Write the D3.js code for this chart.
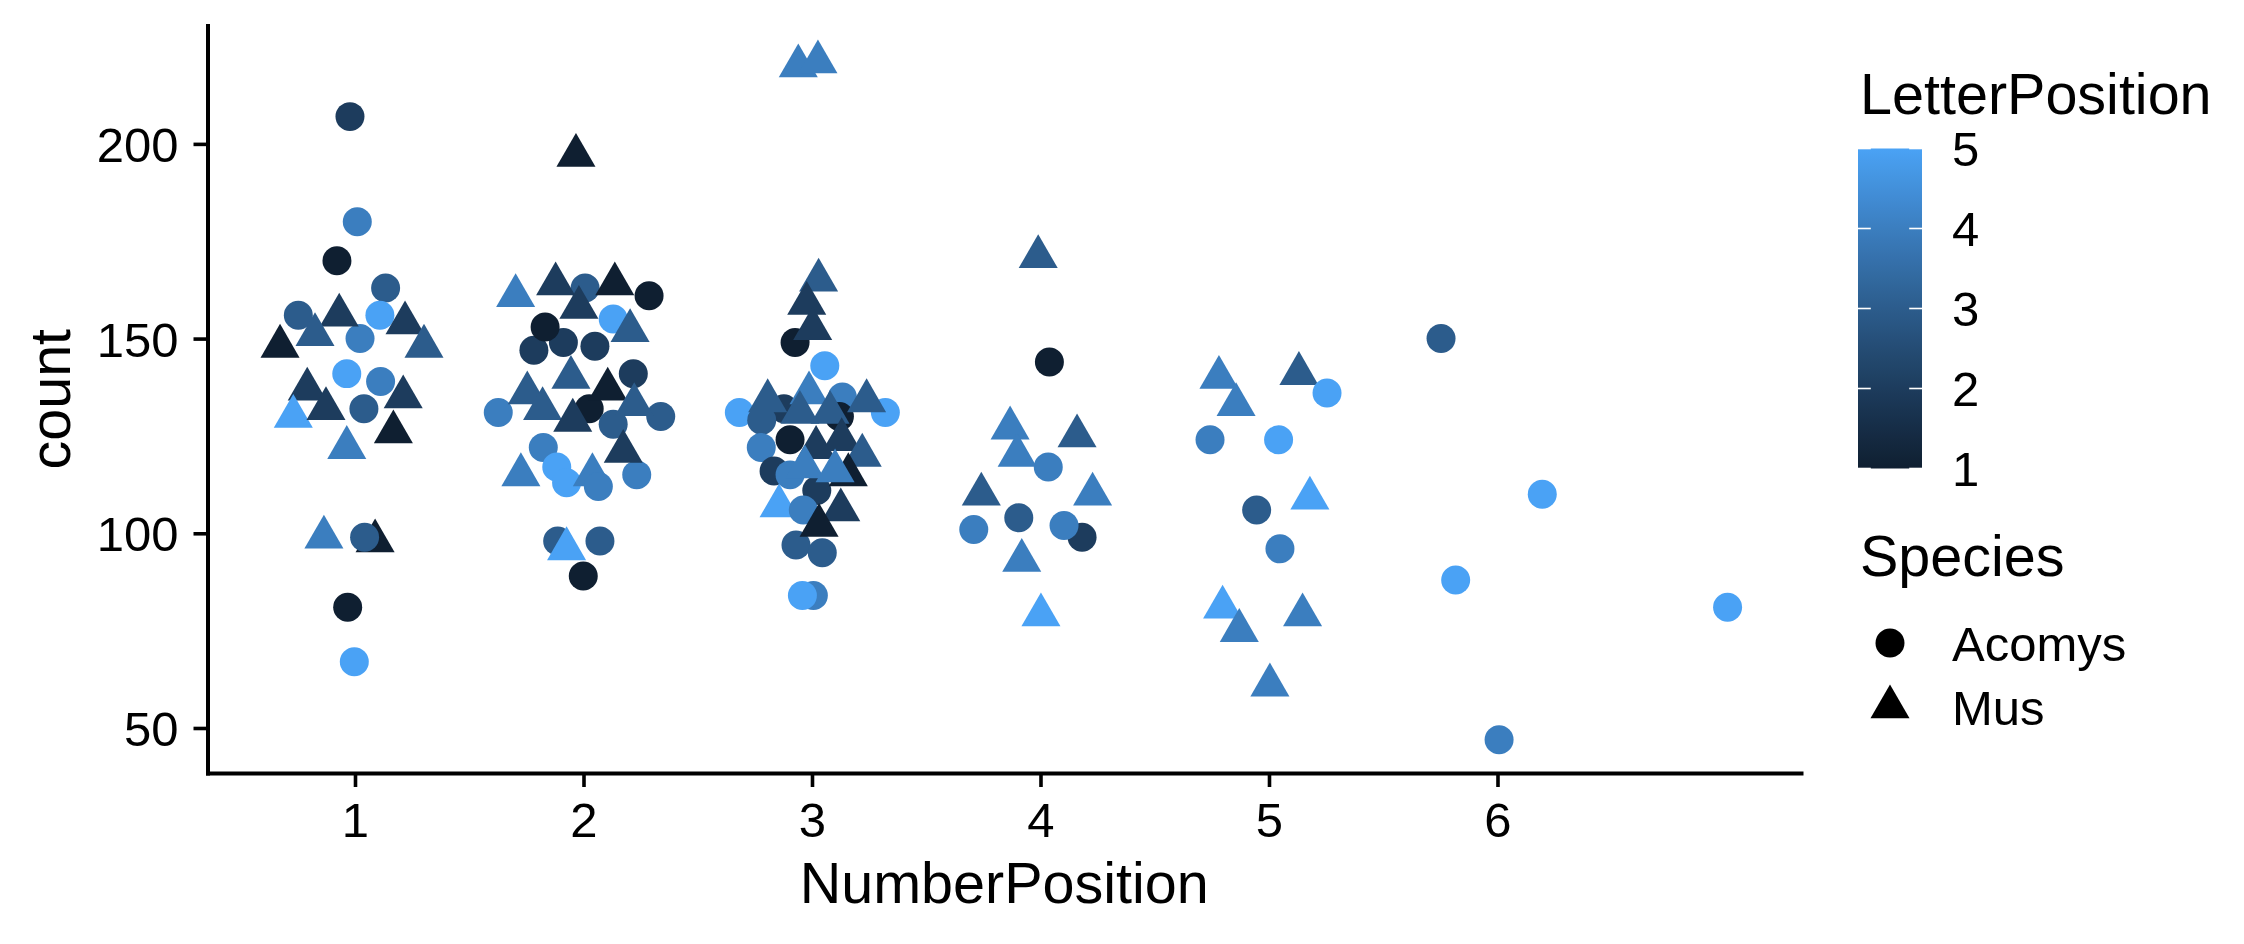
<!DOCTYPE html>
<html>
<head>
<meta charset="utf-8">
<script src="https://cdn.jsdelivr.net/npm/d3@7"></script>
<style>
  body { margin: 0; background: #ffffff; }
  svg { display: block; }
  text { font-family: "Liberation Sans", Arial, Helvetica, sans-serif; fill: #000; }
</style>
</head>
<body>
<svg id="chart" width="2244" height="944"></svg>
<script>
// ---------------- data ----------------
const xTicks = [1, 2, 3, 4, 5, 6];
const yTicks = [50, 100, 150, 200];
const letterTicks = [1, 2, 3, 4, 5];
const speciesLevels = ["Acomys", "Mus"];

// jittered NumberPosition, count, LetterPosition, Species (parallel arrays, draw order)
const numberPos = [
  // NumberPosition 1
  0.978, 1.010, 0.921, 1.134, 0.752, 1.109, 1.022, 0.964, 1.112, 1.039, 0.968, 0.997,
  0.931, 0.825, 1.219, 0.672, 1.302, 0.791, 0.730, 0.873, 1.211, 1.168, 0.964, 0.864, 1.088,
  1.042,
  // NumberPosition 2
  2.007, 2.287, 2.130, 1.783, 1.912, 1.832, 2.050, 2.218, 1.627, 2.025, 2.338, 2.130,
  1.824, 1.883, 1.926, 2.233, 1.887, 2.072, 1.999,
  1.967, 1.703, 1.878, 2.137, 1.980, 2.204, 1.945, 1.754, 2.106, 1.821, 2.222, 1.953,
  2.174, 1.726, 2.039, 1.926,
  2.065,
  // NumberPosition 3
  2.926, 3.056, 3.133, 2.682, 3.321, 2.877, 3.120, 2.780, 2.904, 2.778, 2.834, 2.904,
  3.021, 2.930, 3.045, 3.006, 2.958,
  2.940, 3.026, 3.029, 2.977, 3.003, 2.806, 2.987, 3.239, 3.079, 2.947, 3.018, 3.130,
  3.220, 3.159, 2.969, 3.101, 2.856,
  2.962,
  3.126, 3.031,
  // NumberPosition 4
  4.039, 4.034, 3.905, 3.708, 4.182, 4.103,
  3.990, 3.867, 4.160, 3.898, 3.741, 4.228, 3.918, 4.002,
  // NumberPosition 5
  4.742, 5.042, 4.946, 5.048,
  4.781, 4.856, 5.131, 5.179, 4.797, 4.870, 5.147, 5.004,
  5.254,
  // NumberPosition 6 and 7
  5.753, 6.196, 5.817, 7.007, 6.007
];

const counts = [
  // 1
  207, 180, 170, 163, 156, 156, 150, 141, 139, 132, 81, 67,
  156, 151, 154, 148, 148, 137, 130, 132, 135, 126, 122, 99, 98,
  99,
  // 2
  163, 161, 155, 147, 149, 153, 148, 141, 131, 132, 130, 128,
  122, 117, 113, 115, 98, 98, 89,
  197, 161, 164, 164, 158, 152, 140, 136, 137, 132, 133, 129,
  121, 115, 115, 96,
  112,
  // 3
  149, 143, 135, 131, 131, 132, 130, 129, 124, 122, 116, 115,
  111, 97, 95, 84, 84,
  220, 221, 165, 159, 152.5, 134, 136, 134, 131, 131, 122, 124,
  120, 115, 117, 116, 107,
  106,
  106, 102,
  // 4
  144, 117, 104, 101, 99, 102,
  171, 127, 125, 120, 110, 110, 93, 79,
  // 5
  124, 124, 106, 96,
  140, 133, 141, 109, 81, 75, 79, 61,
  136,
  // 6, 7
  150, 110, 88, 81, 47
];

const letterPos = [
  // 1
  2, 4, 1, 3, 3, 5, 4, 5, 4, 3, 1, 5,
  2, 3, 2, 1, 3, 2, 5, 2, 2, 1, 4, 4, 1,
  3,
  // 2
  3, 1, 5, 2, 2, 1, 2, 2, 4, 1, 3, 3,
  4, 5, 5, 4, 3, 3, 1,
  1, 4, 2, 1, 2, 3, 3, 3, 1, 3, 3, 2,
  2, 4, 4, 5,
  4,
  // 3
  1, 5, 4, 5, 5, 2, 1, 3, 1, 4, 2, 4,
  2, 3, 3, 4, 5,
  4, 4, 3, 2, 2, 3, 4, 3, 3, 3, 2, 2,
  3, 1, 4, 4, 5,
  4,
  2, 1,
  // 4
  1, 4, 3, 4, 2, 4,
  3, 4, 3, 4, 3, 4, 4, 5,
  // 5
  4, 5, 3, 4,
  4, 4, 3, 5, 5, 4, 4, 4,
  5,
  // 6, 7
  3, 5, 5, 5, 4
];

const species = [
  // 1
  "Acomys","Acomys","Acomys","Acomys","Acomys","Acomys","Acomys","Acomys","Acomys","Acomys","Acomys","Acomys",
  "Mus","Mus","Mus","Mus","Mus","Mus","Mus","Mus","Mus","Mus","Mus","Mus","Mus",
  "Acomys",
  // 2
  "Acomys","Acomys","Acomys","Acomys","Acomys","Acomys","Acomys","Acomys","Acomys","Acomys","Acomys","Acomys",
  "Acomys","Acomys","Acomys","Acomys","Acomys","Acomys","Acomys",
  "Mus","Mus","Mus","Mus","Mus","Mus","Mus","Mus","Mus","Mus","Mus","Mus",
  "Mus","Mus","Mus","Mus",
  "Acomys",
  // 3
  "Acomys","Acomys","Acomys","Acomys","Acomys","Acomys","Acomys","Acomys","Acomys","Acomys","Acomys","Acomys",
  "Acomys","Acomys","Acomys","Acomys","Acomys",
  "Mus","Mus","Mus","Mus","Mus","Mus","Mus","Mus","Mus","Mus","Mus","Mus",
  "Mus","Mus","Mus","Mus","Mus",
  "Acomys",
  "Mus","Mus",
  // 4
  "Acomys","Acomys","Acomys","Acomys","Acomys","Acomys",
  "Mus","Mus","Mus","Mus","Mus","Mus","Mus","Mus",
  // 5
  "Acomys","Acomys","Acomys","Acomys",
  "Mus","Mus","Mus","Mus","Mus","Mus","Mus","Mus",
  "Acomys",
  // 6, 7
  "Acomys","Acomys","Acomys","Acomys","Acomys"
];

// ---------------- drawing ----------------
const svg = d3.select("#chart");
const W = 2244, H = 944;
svg.append("rect").attr("width", W).attr("height", H).attr("fill", "#fff");

const panel = { left: 207.5, right: 1801, top: 25.5, bottom: 773 };

const x = d3.scaleLinear().domain([0.3545, 7.3283]).range([panel.left, panel.right]);
const y = d3.scaleLinear().domain([38.44, 230.4]).range([panel.bottom, panel.top]);
const color = d3.scaleLinear().domain([1, 5]).range(["#0f1f31", "#4aa2f5"]).interpolate(d3.interpolateLab);
const shape = d3.scaleOrdinal().domain(speciesLevels).range([d3.symbolCircle, d3.symbolTriangle]);
const SYM_SIZE = 660;

const tickFont = 49;
const titleFont = 57.5;

// points
const pts = numberPos.map((d, i) => ({ x: d, y: counts[i], l: letterPos[i], s: species[i] }));
svg.append("g").selectAll("path").data(pts).join("path")
  .attr("transform", d => `translate(${x(d.x)},${y(d.y)})`)
  .attr("d", d => d3.symbol().type(shape(d.s)).size(SYM_SIZE)())
  .attr("fill", d => color(d.l));

// axes
const axisW = 4;
const yAxis = svg.append("g").attr("transform", `translate(${panel.left},0)`)
  .call(d3.axisLeft(y).tickValues(yTicks).tickFormat(d3.format("d")).tickSize(14).tickSizeOuter(0).tickPadding(15));
const xAxis = svg.append("g").attr("transform", `translate(0,${panel.bottom})`)
  .call(d3.axisBottom(x).tickValues(xTicks).tickFormat(d3.format("d")).tickSize(14).tickSizeOuter(0).tickPadding(15));
[xAxis, yAxis].forEach(g => {
  g.select(".domain").attr("stroke", "#000").attr("stroke-width", axisW).attr("stroke-linecap", "square");
  g.selectAll(".tick line").attr("stroke", "#000").attr("stroke-width", 3.6);
  g.selectAll(".tick text").attr("font-size", tickFont).attr("fill", "#000")
    .style("font-family", '"Liberation Sans", Arial, sans-serif');
});
yAxis.selectAll(".tick text").attr("dy", "0.36em");

// axis titles
svg.append("text").attr("x", (panel.left + panel.right) / 2).attr("y", 903)
  .attr("text-anchor", "middle").attr("font-size", titleFont).text("NumberPosition");
svg.append("text").attr("transform", `translate(70,${(panel.top + panel.bottom) / 2}) rotate(-90)`)
  .attr("text-anchor", "middle").attr("font-size", titleFont).text("count");

// legend: colourbar
const lg = { x: 1858, w: 64, top: 148.5, bottom: 468.5 };
const defs = svg.append("defs");
const grad = defs.append("linearGradient").attr("id", "lpGrad")
  .attr("x1", 0).attr("y1", 1).attr("x2", 0).attr("y2", 0);
d3.range(0, 1.0001, 0.05).forEach(t => {
  grad.append("stop").attr("offset", t).attr("stop-color", color(1 + 4 * t));
});
svg.append("text").attr("x", 1860).attr("y", 114).attr("font-size", titleFont).text("LetterPosition");
const ly = d3.scaleLinear().domain([1, 5]).range([lg.bottom, lg.top]);
svg.append("rect").attr("x", lg.x).attr("y", lg.top).attr("width", lg.w)
  .attr("height", lg.bottom - lg.top).attr("fill", "url(#lpGrad)");
const tl = lg.w / 5;
svg.append("g").selectAll("g").data(letterTicks).join("g").each(function (v) {
  const g = d3.select(this);
  g.append("line").attr("x1", lg.x).attr("x2", lg.x + tl).attr("y1", ly(v)).attr("y2", ly(v))
    .attr("stroke", "#fff").attr("stroke-width", 1.6);
  g.append("line").attr("x1", lg.x + lg.w - tl).attr("x2", lg.x + lg.w).attr("y1", ly(v)).attr("y2", ly(v))
    .attr("stroke", "#fff").attr("stroke-width", 1.6);
  g.append("text").attr("x", 1952).attr("y", ly(v)).attr("dy", "0.36em")
    .attr("font-size", tickFont).text(v);
});

// legend: species
svg.append("text").attr("x", 1860).attr("y", 576).attr("font-size", titleFont).text("Species");
const keyY = d3.scalePoint().domain(speciesLevels).range([643, 707]);
const sk = svg.append("g").selectAll("g").data(speciesLevels).join("g");
sk.append("path").attr("transform", d => `translate(1890,${keyY(d)})`)
  .attr("d", d => d3.symbol().type(shape(d)).size(SYM_SIZE)()).attr("fill", "#000");
sk.append("text").attr("x", 1952).attr("y", d => keyY(d)).attr("dy", "0.36em")
  .attr("font-size", tickFont).text(d => d);
</script>
</body>
</html>
